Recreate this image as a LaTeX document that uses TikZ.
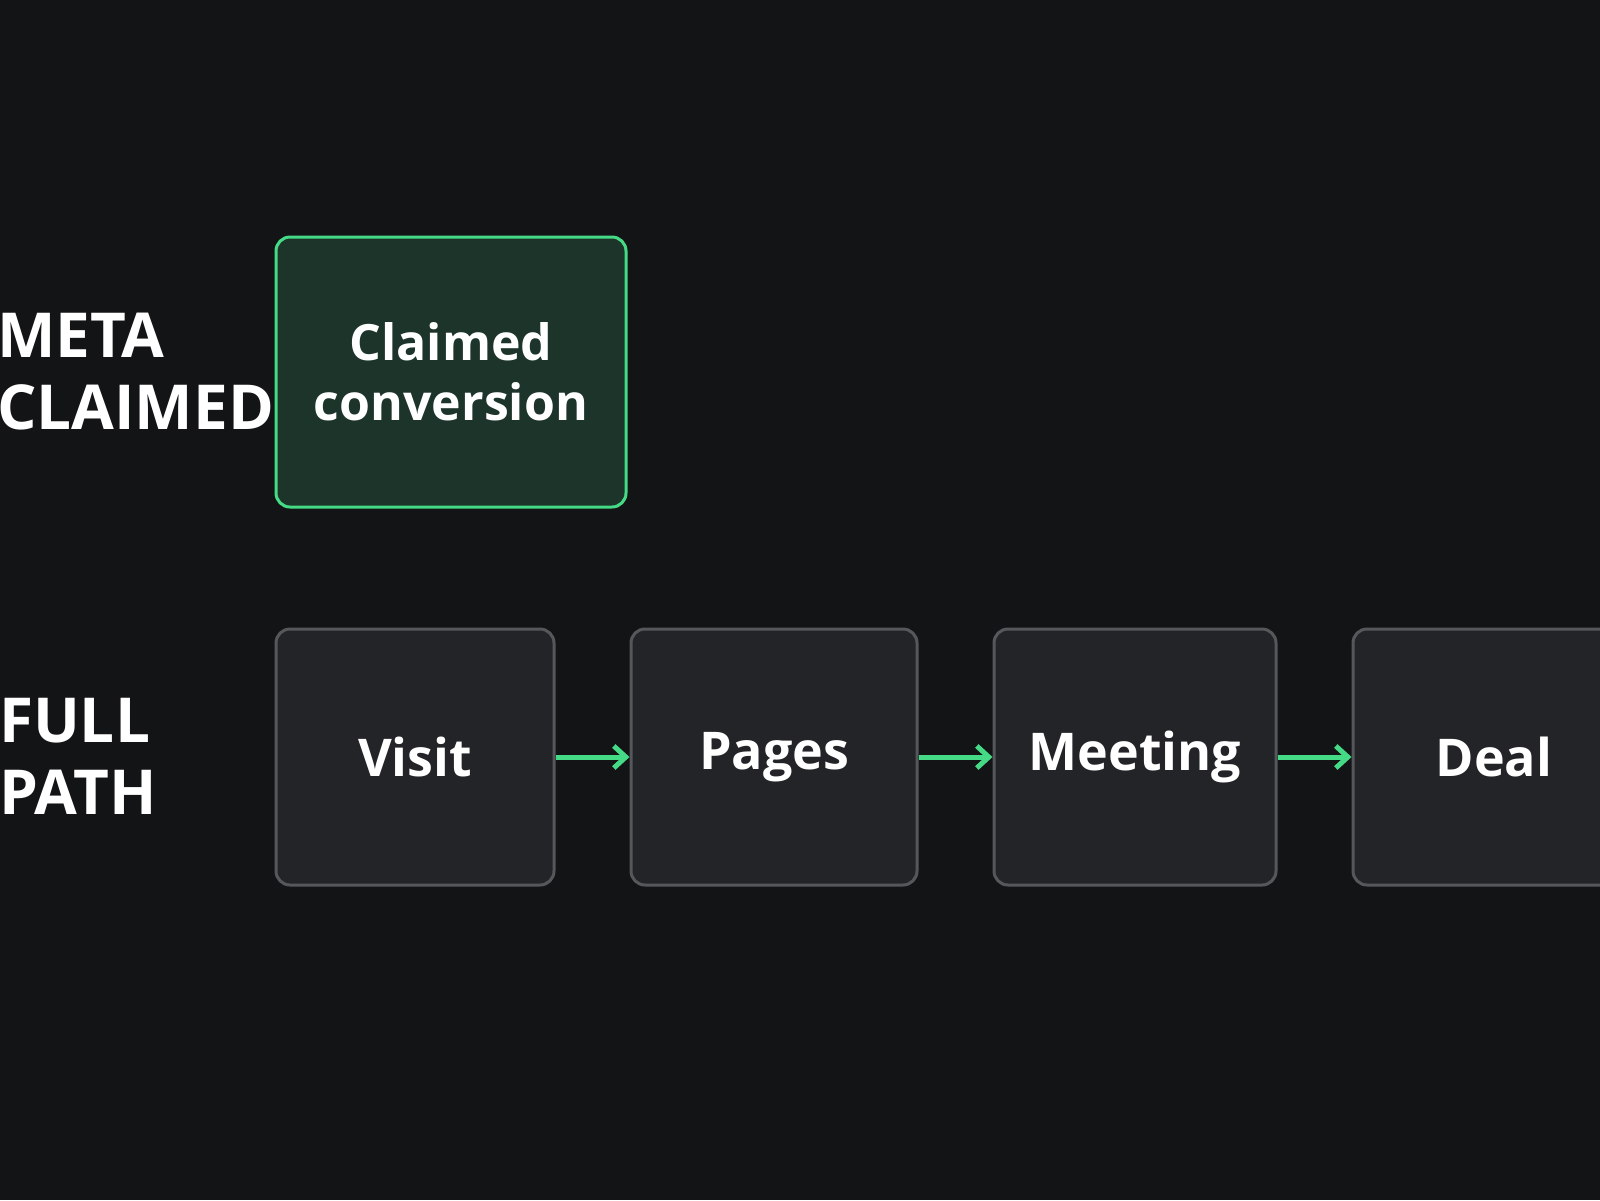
\documentclass[tikz,border=0pt]{standalone}
\usepackage{fontspec}
\setmainfont{Open Sans}
\usetikzlibrary{arrows.meta,positioning}
\definecolor{bg}{HTML}{131416}
\definecolor{accent}{HTML}{45DB86}
\definecolor{claimfill}{HTML}{1C3429}
\definecolor{stepfill}{HTML}{232427}
\definecolor{stepline}{HTML}{56575A}
\tikzset{
  stage/.style={draw=stepline,line width=1.5pt,fill=stepfill,rounded corners=7pt,
    minimum width=139pt,minimum height=128pt,text=white,font=\fontsize{26}{30}\selectfont\bfseries},
  claim/.style={draw=accent,line width=1.5pt,fill=claimfill,rounded corners=7pt,
    minimum width=175pt,minimum height=135pt,text=white,align=center,
    font=\fontsize{25}{30}\selectfont\bfseries},
  rowlabel/.style={anchor=west,align=left,text=white,font=\fontsize{31}{36}\selectfont\bfseries},
  flow/.style={-{Straight Barb[length=6pt,width=11pt]},draw=accent,line width=2.5pt}
}
\begin{document}
\begin{tikzpicture}[x=0.5pt,y=-0.5pt]
\fill[bg] (0,0) rectangle (1600,1200);
\useasboundingbox (0,0) rectangle (1600,1200);

\node (metaLabel) at (-10,372)[rowlabel] {META\\CLAIMED};
\node (claimed) at (451,372)[claim] {Claimed\\conversion};

\node (pathLabel) at (-8,756)[rowlabel] {FULL\\PATH};
\node (visit) at (415,757)[stage,minimum width=139pt] {Visit};
\node (pages) at (774,757)[stage,minimum width=143pt] {Pages};
\node (meeting) at (1135,757)[stage,minimum width=141pt] {Meeting};
\node (deal) at (1494,757)[stage,minimum width=141pt] {Deal};

\draw [flow] (visit) -- (pages);
\draw [flow] (pages) -- (meeting);
\draw [flow] (meeting) -- (deal);
\end{tikzpicture}
\end{document}
